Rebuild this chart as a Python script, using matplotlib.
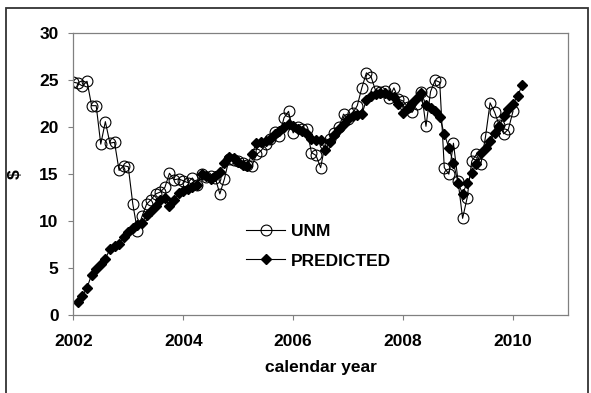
import matplotlib
matplotlib.use("Agg")
import matplotlib.pyplot as plt
import numpy as np
from matplotlib.patches import Rectangle

plt.rcParams['font.family'] = ['Liberation Sans', 'DejaVu Sans']
plt.rcParams['font.weight'] = 'bold'

# UNM: monthly, Jan 2002 .. Jan 2010
unm_start = 2002.0
unm = [24.8, 24.7, 24.4, 24.9, 22.3, 22.3, 18.2, 20.6, 18.3, 18.4, 15.4, 15.9,
       15.8, 11.8, 9.0, 10.5, 11.8, 12.3, 12.9, 13.1, 13.6, 15.1, 14.4, 14.5,
       14.3, 14.1, 14.6, 13.9, 15.0, 14.7, 14.8, 14.6, 12.9, 14.5, 16.6, 16.5,
       16.4, 16.2, 16.0, 15.9, 17.1, 17.5, 18.2, 18.8, 19.5, 19.1, 21.0, 21.7,
       19.4, 20.0, 19.8, 19.8, 17.3, 17.0, 15.7, 18.2, 18.7, 19.4, 20.0, 21.4,
       20.9, 21.5, 22.3, 24.2, 25.8, 25.4, 23.9, 23.8, 23.9, 23.1, 24.2, 23.0,
       22.8, 22.2, 21.6, 22.5, 23.8, 20.1, 23.8, 25.0, 24.8, 15.7, 15.0, 18.3,
       14.3, 10.3, 12.5, 16.4, 17.1, 16.1, 19.0, 22.6, 21.6, 20.2, 19.3, 19.8,
       21.7]

# PREDICTED: monthly, Feb 2002 .. Mar 2010
pred_start = 2002.0 + 1 / 12
predicted = [1.35, 2.05, 2.9, 4.3, 4.9, 5.4, 6.0, 7.0, 7.3, 7.6, 8.3, 8.8,
             9.3, 9.6, 9.8, 10.6, 11.1, 11.6, 12.2, 12.5, 11.6, 12.3, 13.0, 13.2,
             13.4, 13.6, 13.9, 15.0, 14.8, 14.5, 14.8, 15.2, 16.2, 16.8, 16.7, 16.3,
             16.0, 15.9, 17.2, 18.3, 18.4, 18.5, 18.8, 19.3, 19.6, 20.0, 20.4, 20.1,
             19.8, 19.6, 19.3, 18.8, 18.6, 18.6, 17.6, 18.4, 19.2, 19.8, 20.4, 20.9,
             21.2, 21.3, 21.4, 22.9, 23.3, 23.5, 23.6, 23.6, 23.4, 23.2, 22.5, 21.5,
             22.0, 22.6, 23.1, 23.6, 22.4, 22.1, 21.7, 21.1, 19.3, 17.8, 16.2, 14.1,
             12.9, 14.1, 15.1, 16.1, 17.3, 17.8, 18.5, 19.4, 20.1, 21.2, 21.9, 22.5,
             23.3, 24.5]

unm_t = unm_start + np.arange(len(unm)) / 12
pred_t = pred_start + np.arange(len(predicted)) / 12

xticks = [2002, 2004, 2006, 2008, 2010]
yticks = [0, 5, 10, 15, 20, 25, 30]

fig = plt.figure(figsize=(5.91, 3.93), dpi=100)
ax = fig.add_axes([0.124, 0.1985, 0.837, 0.7165])

ax.plot(unm_t, unm, color='black', linewidth=0.8, marker='o', markersize=7.8,
        markerfacecolor='none', markeredgecolor='black', markeredgewidth=0.8,
        label='UNM')
ax.plot(pred_t, predicted, color='black', linewidth=0.8, marker='D', markersize=4.8,
        markerfacecolor='black', markeredgecolor='black', label='PREDICTED')

ax.set_xlim(2002, 2011)
ax.set_ylim(0, 30)
ax.set_xticks(xticks)
ax.set_yticks(yticks)
ax.tick_params(axis='both', direction='out', length=3.6, width=0.8,
               color='#808080', labelsize=12.5)
ax.tick_params(axis='x', pad=10)
ax.tick_params(axis='y', pad=7)
for s in ax.spines.values():
    s.set_color('#808080')
    s.set_linewidth(0.9)

ax.set_xlabel('calendar year', fontsize=12.5, fontweight='bold', labelpad=8)
ax.set_ylabel('$', fontsize=12.5, fontweight='bold', labelpad=12)

ax.legend(loc='upper left', bbox_to_anchor=(0.35, 0.325), frameon=False,
          fontsize=12.5, handlelength=2.2, handletextpad=0.35,
          labelspacing=0.85, borderpad=0, borderaxespad=0)

fig.patches.append(Rectangle((6 / 591, -0.1), 582 / 591, 1.1 - 8 / 393,
                             transform=fig.transFigure, fill=False,
                             edgecolor='#333333', linewidth=1.3))

fig.savefig('out.png', dpi=100)
